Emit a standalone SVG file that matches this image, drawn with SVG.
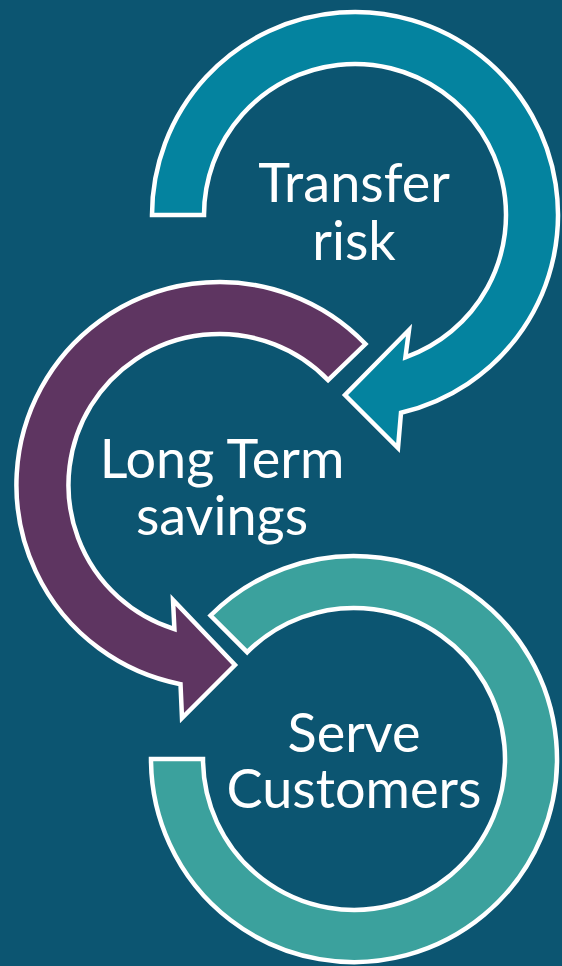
<svg xmlns="http://www.w3.org/2000/svg" width="562" height="966" viewBox="0 0 562 966">
  <style>
    .arc { stroke: #ffffff; stroke-width: 4.5; stroke-linejoin: miter; stroke-miterlimit: 10; }
    .teal { fill: #04839F; }
    .plum { fill: #5E3561; }
    .sea { fill: #3BA19D; }
    .label { font-family: Lato, "Open Sans", "Liberation Sans", sans-serif; font-size: 54px; fill: #ffffff; text-anchor: middle; }
  </style>
  <rect width="562" height="966" fill="#0C5571"/>
  <g id="connectors">
    <path id="arrow-transfer" class="arc teal" d="M152,215 A203,203 0 1 1 401,412.7 L398,448 L345,395 L409,330 L405.4,357.3 A151,151 0 1 0 204,215 Z"/>
    <path id="arrow-savings" class="arc plum" d="M365.5,344 A203,203 0 1 0 180.5,684.2 L182,718 L235,665 L173,600 L174.4,629.1 A151,151 0 1 1 328.1,380.1 Z"/>
    <path id="ring-serve" class="arc sea" d="M210.5,615.5 A203,203 0 1 1 151,759 L203,759 A151,151 0 1 0 247.2,652.2 Z"/>
  </g>
  <g id="node-transfer">
    <text class="label" x="354" y="202">Transfer</text>
    <text class="label" x="354" y="260">risk</text>
  </g>
  <g id="node-savings">
    <text class="label" x="222" y="478">Long Term</text>
    <text class="label" x="222" y="535">savings</text>
  </g>
  <g id="node-serve">
    <text class="label" x="354" y="752">Serve</text>
    <text class="label" x="354" y="808">Customers</text>
  </g>
</svg>
